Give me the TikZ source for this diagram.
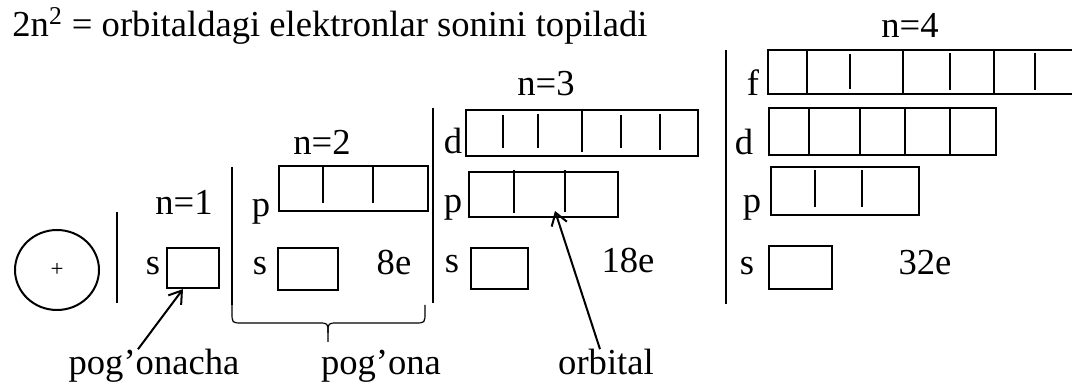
\documentclass[tikz,border=0pt]{standalone}
\usepackage{fontspec}
\setmainfont{Liberation Serif}
\usetikzlibrary{fit,arrows.meta,shapes.geometric}
\begin{document}
\begin{tikzpicture}[x=0.5pt,y=-0.5pt,
 lbl/.style={anchor=base,inner sep=0pt,font=\fontsize{18.3}{22}\selectfont},
 obox/.style={draw,line width=1.1pt,inner sep=0pt},
 sep/.style={line width=0.6pt},
 div/.style={line width=0.6pt},
 arr/.style={line width=1pt,-{Straight Barb[length=6pt,width=8pt]}}]
\useasboundingbox (0,0) rectangle (1072,383);
\clip (0,0) rectangle (1072,383);

% title
\node[lbl,anchor=base west] (title) at (12,37) {2n\textsuperscript{2} = orbitaldagi elektronlar sonini topiladi};

% nucleus
\node[draw,ellipse,line width=1pt,minimum width=42pt,minimum height=40pt,inner sep=0pt,
      font=\fontsize{11.5}{12}\selectfont] (nuc) at (57,270) {+};

% separators
\draw[sep] (117,212) -- (117,303);
\draw[sep] (232,167) -- (232,305);
\draw[sep] (433,108) -- (433,303);
\draw[sep] (726,50) -- (726,304);

% brace under n=2
\draw[sep] (232,305) -- (232,312) .. controls (232,323) .. (242,323) -- (318,323)
  .. controls (328,323) .. (328,333) -- (328,342);
\draw[sep] (328,333) .. controls (328,323) .. (338,323) -- (415,323)
  .. controls (425,323) .. (425,312) -- (425,305);

% n=1
\node[lbl] (n1) at (184,215) {n=1};
\node[lbl] (s1l) at (153,275) {s};
\node[obox,fit={(167,248) (219,288)}] (s1) {};

% n=2
\node[lbl] (n2) at (322,155) {n=2};
\node[lbl] (p2l) at (261,217) {p};
\node[obox,fit={(279,166) (428,211)}] (p2) {};
\draw[div] (323,166) -- (323,203);
\draw[div] (373,166) -- (373,203);
\node[lbl] (s2l) at (260,275) {s};
\node[obox,fit={(278,248) (338,290)}] (s2) {};
\node[lbl] (e2) at (394,275) {8e};

% n=3
\node[lbl] (n3) at (546,96) {n=3};
\node[lbl] (d3l) at (453,154) {d};
\node[obox,fit={(466,110) (698,156)}] (d3) {};
\draw[div] (503,115) -- (503,148);
\draw[div] (538,114) -- (538,148);
\draw[div] (582,110) -- (582,152);
\draw[div] (621,115) -- (621,148);
\draw[div] (660,114) -- (660,150);
\node[lbl] (p3l) at (453,213) {p};
\node[obox,fit={(469,172) (618,217)}] (p3) {};
\draw[div] (514,170) -- (514,213);
\draw[div] (565,170) -- (565,212);
\node[lbl] (s3l) at (452,273) {s};
\node[obox,fit={(471,248) (528,289)}] (s3) {};
\node[lbl] (e3) at (628,273) {18e};

% n=4
\node[lbl] (n4) at (910,38) {n=4};
\node[lbl] (f4l) at (753,96) {f};
\node[obox,fit={(768,50) (1090,94)}] (f4) {};
\draw[div] (807,50) -- (807,94);
\draw[div] (850,54) -- (850,89);
\draw[div] (903,50) -- (903,93);
\draw[div] (950,53) -- (950,90);
\draw[div] (994,50) -- (994,94);
\draw[div] (1035,53) -- (1035,90);
\node[lbl] (d4l) at (744,155) {d};
\node[obox,fit={(769,108) (996,155)}] (d4) {};
\draw[div] (809,108) -- (809,155);
\draw[div] (860,108) -- (860,155);
\draw[div] (905,108) -- (905,155);
\draw[div] (950,108) -- (950,155);
\node[lbl] (p4l) at (752,213) {p};
\node[obox,fit={(771,167) (919,215)}] (p4) {};
\draw[div] (815,170) -- (815,207);
\draw[div] (862,170) -- (862,207);
\node[lbl] (s4l) at (747,275) {s};
\node[obox,fit={(769,246) (832,289)}] (s4) {};
\node[lbl] (e4) at (925,275) {32e};

% bottom labels
\node[lbl] (pa) at (154,375) {pog’onacha};
\node[lbl] (pb) at (381,375) {pog’ona};
\node[lbl] (orb) at (606,375) {orbital};

% arrows
\coordinate (orbtip) at (555,211);
\draw[arr] ([xshift=-8pt]pa.north) -- ([xshift=-5pt]s1.south);
\draw[arr] ([xshift=-3pt]orb.north) -- (orbtip);
\end{tikzpicture}
\end{document}
